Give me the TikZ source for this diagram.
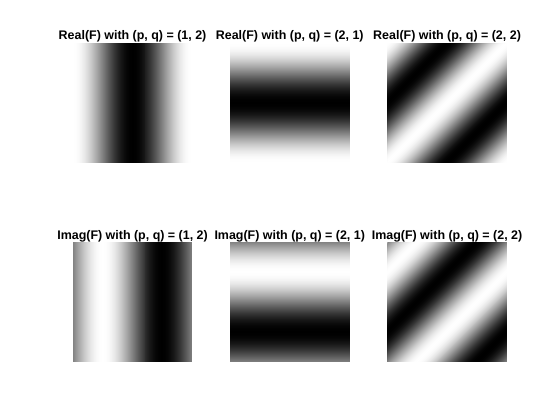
\documentclass[tikz,border=0pt]{standalone}
\usepackage{fontspec}
\setmainfont{Liberation Sans}
\newcommand{\imgW}{119.5}
% vertical stripes: x0, y0, function (cos/sin)
\newcommand{\mkvert}[3]{%
  \foreach \i in {0,...,119}{%
    \pgfmathsetmacro{\gv}{max(0,min(1,(1+#3(3*(\i+0.5)))/2))}%
    \pgfmathsetmacro{\dd}{\i/120*\imgW}%
    \definecolor{cc}{gray}{\gv}%
    \fill[cc] ({#1+\dd},#2) rectangle ({#1+\imgW},{#2+\imgW});
  }}
% horizontal stripes
\newcommand{\mkhorz}[3]{%
  \foreach \i in {0,...,119}{%
    \pgfmathsetmacro{\gv}{max(0,min(1,(1+#3(3*(\i+0.5)))/2))}%
    \pgfmathsetmacro{\dd}{\i/120*\imgW}%
    \definecolor{cc}{gray}{\gv}%
    \fill[cc] (#1,{#2+\dd}) rectangle ({#1+\imgW},{#2+\imgW});
  }}
% diagonal stripes
\newcommand{\mkdiag}[3]{%
  \begin{scope}
    \clip (#1,#2) rectangle ({#1+\imgW},{#2+\imgW});
    \foreach \i in {0,...,239}{%
      \pgfmathsetmacro{\gv}{max(0,min(1,(1+#3(3*(\i+0.5)))/2))}%
      \pgfmathsetmacro{\dd}{\i/120*\imgW}%
      \definecolor{cc}{gray}{\gv}%
      \fill[cc] ({#1+\dd},#2) -- ({#1+3*\imgW},#2) -- ({#1+3*\imgW},{#2+3*\imgW})
        -- (#1,{#2+3*\imgW}) -- (#1,{#2+\dd}) -- cycle;
    }
  \end{scope}}
\tikzset{ttl/.style={font=\fontsize{12.45}{14}\selectfont\bfseries, anchor=base, inner sep=0pt}}
\begin{document}
\begin{tikzpicture}[x=1pt,y=-1pt]
  \fill[white] (0,0) rectangle (560,420);
  \useasboundingbox (0,0) rectangle (560,420);
  % top row
  \mkvert{72.8}{43.4}{cos}
  \mkhorz{230.0}{43.4}{cos}
  \mkdiag{387.3}{43.4}{cos}
  % bottom row
  \mkvert{72.8}{242.4}{sin}
  \mkhorz{230.0}{242.4}{sin}
  \mkdiag{387.3}{242.4}{sin}
  % titles
  \node[ttl] (t1) at (132.55,40) {Real(F) with (p, q) = (1, 2)};
  \node[ttl] (t2) at (289.75,40) {Real(F) with (p, q) = (2, 1)};
  \node[ttl] (t3) at (447.05,40) {Real(F) with (p, q) = (2, 2)};
  \node[ttl] (t4) at (132.55,239) {Imag(F) with (p, q) = (1, 2)};
  \node[ttl] (t5) at (289.75,239) {Imag(F) with (p, q) = (2, 1)};
  \node[ttl] (t6) at (447.05,239) {Imag(F) with (p, q) = (2, 2)};
\end{tikzpicture}
\end{document}
